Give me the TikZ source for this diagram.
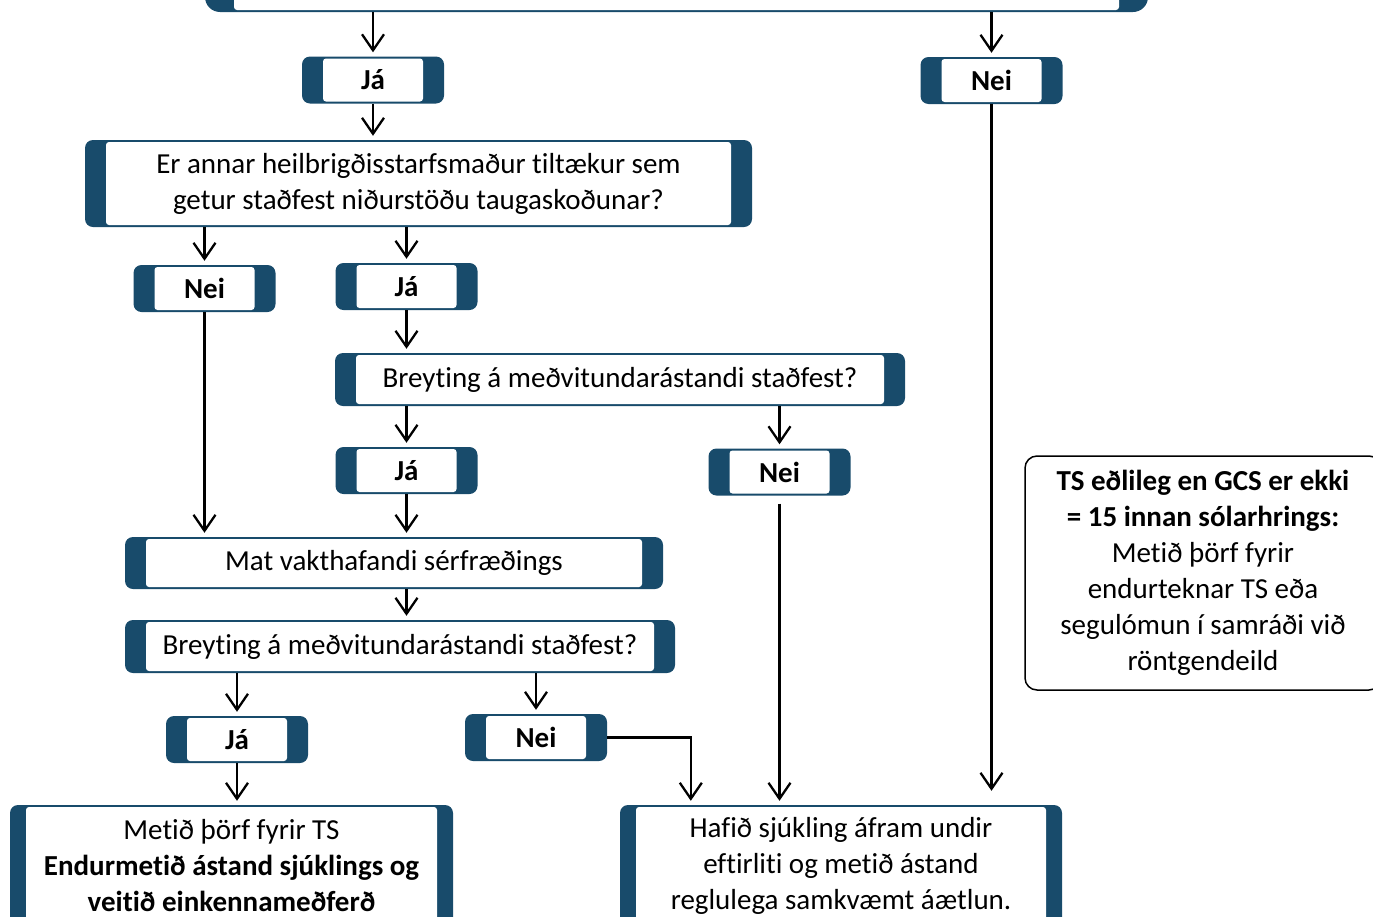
\documentclass[tikz,border=0pt]{standalone}
\usepackage{fontspec}
\setmainfont{Carlito}[Ligatures=CommonOff, Contextuals=AlternateOff]
\usepackage{tikz}
\usetikzlibrary{arrows.meta}
\definecolor{boksblue}{RGB}{24,75,107}

\begin{document}
\begin{tikzpicture}[x=1pt, y=-1pt,
		font=\fontsize{29}{36}\selectfont,
		bx/.store in=\bx, bx=21pt,
		kassi/.style={fill=boksblue, rounded corners=8pt, inner sep=0pt, align=center,
			path picture={\fill[white, rounded corners=3pt]
				([shift={(\bx,2pt)}]path picture bounding box.south west) rectangle
				([shift={(-\bx,-2pt)}]path picture bounding box.north east);}},
		svar/.style={kassi, minimum width=142pt, minimum height=47pt, font=\fontsize{29}{36}\selectfont\bfseries},
		pil/.style={-{Straight Barb[length=16pt,width=22pt]}, line width=2.3pt, shorten >=4pt}]
				\clip (0,0) rectangle (1373,916);
				% efst
				\node[kassi, bx=29pt, rounded corners=15pt, minimum width=943pt, minimum height=52pt] (topp) at (676.5,-14) {};
				\node[svar] (ja1) at (373,80) {Já};
				\node[svar] (nei1) at (991.5,80.5) {Nei};
				\node[kassi, minimum width=667pt, minimum height=87pt] (sp1) at (418.5,183.5) {Er annar heilbrigðisstarfsmaður tiltækur sem\\ getur staðfest niðurstöðu taugaskoðunar?};
				\node[svar] (nei2) at (204.5,288.5) {Nei};
				\node[svar] (ja2) at (406.5,286.5) {Já};
				\node[kassi, minimum width=570pt, minimum height=53pt] (sp2) at (620,379.5) {Breyting á meðvitundarástandi staðfest?};
				\node[svar] (ja3) at (406.5,470.5) {Já};
				\node[svar] (nei3) at (779.5,472) {Nei};
				
				% mat
				\node[kassi, minimum width=538pt, minimum height=52pt] (mat) at (394,563) {Mat vakthafandi sérfræðings};
				\node[kassi, minimum width=550pt, minimum height=53pt] (sp3) at (400,646.5) {Breyting á meðvitundarástandi staðfest?};
				\node[svar] (ja4) at (237,739.5) {Já};
				\node[svar] (nei4) at (536,737.5) {Nei};
				
				% nidurstada
				\node[kassi, bx=16pt, minimum width=443pt, minimum height=122pt] (meta) at (231.5,866) {Metið þörf fyrir TS\\ \textbf{Endurmetið ástand sjúklings og}\\ \textbf{veitið einkennameðferð}};
				\node[kassi, bx=16pt, minimum width=442pt, minimum height=122pt] (hafid) at (841,866) {Hafið sjúkling áfram undir\\ eftirliti og metið ástand\\ reglulega samkvæmt áætlun.};
				\node[draw, line width=1.5pt, rounded corners=12pt, minimum width=356pt, minimum height=234pt, align=center] (ath) at (1203,573) {\textbf{TS eðlileg en GCS er ekki}\\ \textbf{= 15 innan sólarhrings:}\\ Metið þörf fyrir\\ endurteknar TS eða\\ segulómun í samráði við\\ röntgendeild};
				
				% orvar
				\draw[pil] (topp.south -| ja1) -- (ja1);
				\draw[pil] (topp.south -| nei1) -- (nei1);
				\draw[pil] (ja1) -- (ja1 |- sp1.north);
				\draw[pil] (sp1.south -| nei2) -- (nei2);
				\draw[pil] (sp1.south -| ja2) -- (ja2);
				\draw[pil] (ja2) -- (ja2 |- sp2.north);
				\draw[pil] (sp2.south -| ja3) -- (ja3);
				\draw[pil] (sp2.south -| nei3) -- (nei3);
				\draw[pil] (nei2) -- (nei2 |- mat.north);
				\draw[pil] (ja3) -- (ja3 |- mat.north);
				\draw[pil] (mat.south -| ja3) -- (ja3 |- sp3.north);
				\draw[pil] (sp3.south -| ja4) -- (ja4);
				\draw[pil] (sp3.south -| nei4) -- (nei4);
				\draw[pil] (ja4) -- (ja4 |- meta.north);
				\draw[pil, shorten <=8pt] (nei3) -- (nei3 |- hafid.north);
				\draw[pil] (nei4.east) -| ([xshift=71pt]hafid.north west);
				\draw[pil, shorten >=14pt] (nei1) -- (nei1 |- hafid.north);
			\end{tikzpicture}
\end{document}
